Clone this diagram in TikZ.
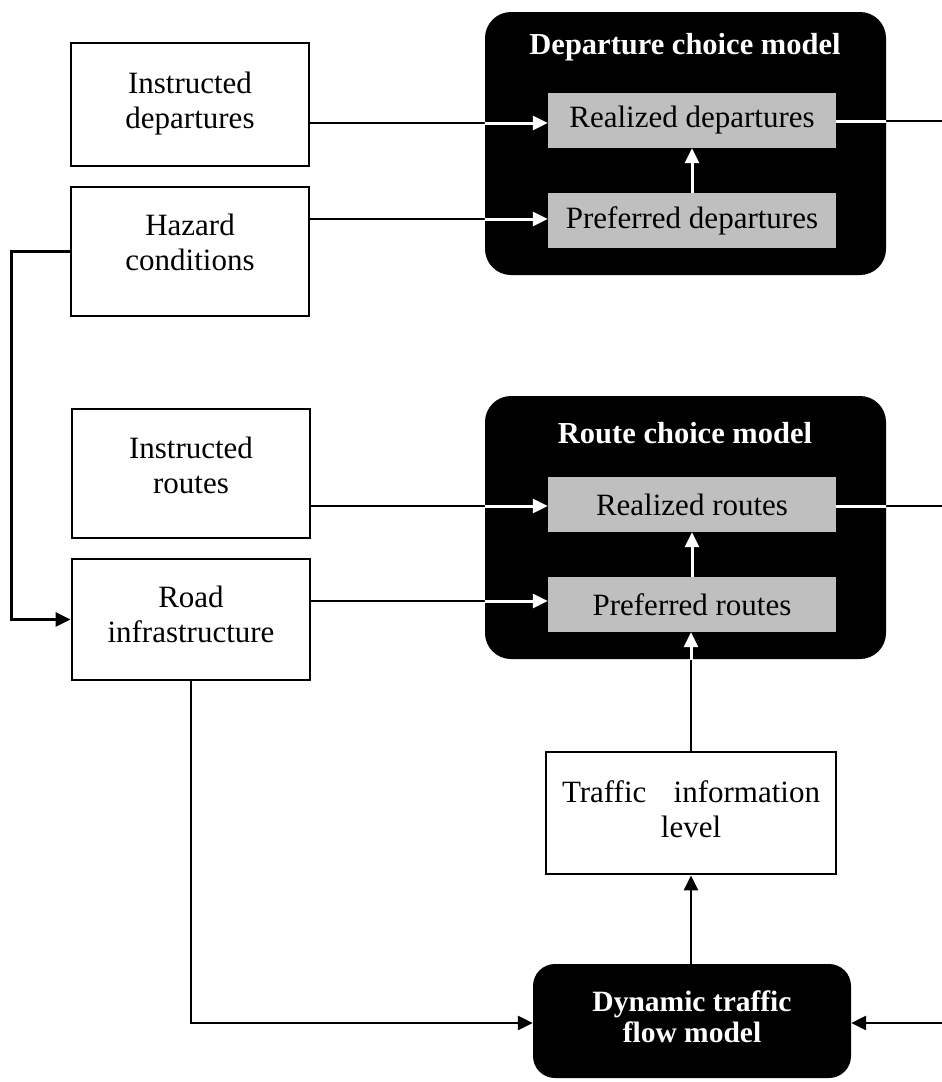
\documentclass[tikz,border=0pt]{standalone}
\usepackage{fontspec}
\setmainfont{Liberation Serif}
\usetikzlibrary{arrows.meta,positioning}
\definecolor{grayfill}{RGB}{191,191,191}
\tikzset{
  x=1pt,y=-1pt,
  txt/.style={font=\fontsize{31}{35}\selectfont},
  inbox/.style={draw=black,line width=2.8pt,fill=white,rectangle,align=center,txt,inner sep=0pt},
  blackbox/.style={fill=black,rectangle,rounded corners=26pt,inner sep=0pt},
  graybox/.style={fill=grayfill,rectangle,inner sep=0pt,minimum width=288pt,minimum height=55pt,txt},
  title/.style={text=white,font=\fontsize{30.5}{34}\selectfont\bfseries,inner sep=0pt},
  conn/.style={draw=black,line width=2.8pt,-{Triangle[length=15pt,width=14pt]}},
  plain/.style={draw=black,line width=2.8pt},
  wconn/.style={draw=white,line width=3pt,-{Triangle[length=15pt,width=14pt]}},
  wplain/.style={draw=white,line width=3pt},
}
\newcommand{\dn}[1]{\rule[-#1pt]{0pt}{#1pt}}
\begin{document}
\begin{tikzpicture}
\useasboundingbox[fill=white] (0,0) rectangle (942,1082);

% black model boxes
\node[blackbox,minimum width=401pt,minimum height=263pt] (depbox) at (685.5,143.5) {};
\node[blackbox,minimum width=401pt,minimum height=263pt] (routebox) at (685.5,527.5) {};
\node[blackbox,rounded corners=22pt,minimum width=318pt,minimum height=114pt,text=white,align=center,font=\fontsize{29.5}{31}\selectfont\bfseries] (dyn) at (692,1021) {Dynamic traffic\\flow model\dn{8}};

\node[title] (deptitle) at (685,47) {Departure choice model};
\node[title] (routetitle) at (685,433) {Route choice model};

% gray inner boxes
\node[graybox] (realdep) at (692,120.5) {Realized departures};
\node[graybox] (prefdep) at (692,220.5) {Preferred departures};
\node[graybox] (realroute) at (692,504.5) {Realized routes};
\node[graybox] (prefroute) at (692,604.5) {Preferred routes};

% input boxes
\node[inbox,minimum width=238pt,minimum height=123pt] (instdep) at (190,104.5) {Instructed\\departures\dn{9}};
\node[inbox,minimum width=238pt,minimum height=129pt] (hazard) at (190,251.5) {Hazard\\conditions\dn{18}};
\node[inbox,minimum width=238pt,minimum height=129pt] (instroute) at (191,473.5) {Instructed\\routes\dn{16}};
\node[inbox,minimum width=238pt,minimum height=121pt] (road) at (191,619.5) {Road\\infrastructure\dn{10}};
\node[inbox,minimum width=290pt,minimum height=122pt,text width=258pt] (traffic) at (691,813) {Traffic\hfill information\\level\dn{8}};

% free ends at the right edge
\coordinate (outdep) at (942,121);
\coordinate (outroute) at (942,506);
\coordinate (indyn) at (942,1023);

% connectors (black)
\draw[conn] (instdep.east |- 0,123) -- (realdep.west |- 0,123);
\draw[conn] (hazard.east |- 0,219) -- (prefdep.west |- 0,219);
\draw[conn] (instroute.east |- 0,506) -- (realroute.west |- 0,506);
\draw[conn] (road.east |- 0,601) -- (prefroute.west |- 0,601);
\draw[plain] (realdep.east |- outdep) -- (outdep);
\draw[plain] (realroute.east |- outroute) -- (outroute);
\draw[conn] (traffic.north) -- (prefroute.south -| traffic.north);
\draw[conn] (hazard.west) -- ++(-58,0) |- (road.west);
\draw[conn] (road.south) |- (dyn.west |- 0,1023);
\draw[conn] (dyn.north -| traffic.south) -- (traffic.south);
\draw[conn] (indyn) -- (dyn.east |- indyn);

% white parts inside the black boxes
\begin{scope}
\clip (depbox.north west) rectangle (depbox.south east);
\draw[wconn] (instdep.east |- 0,123) -- (realdep.west |- 0,123);
\draw[wconn] (hazard.east |- 0,219) -- (prefdep.west |- 0,219);
\draw[wplain] (realdep.east |- outdep) -- (outdep);
\end{scope}
\begin{scope}
\clip (routebox.north west) rectangle (routebox.south east);
\draw[wconn] (instroute.east |- 0,506) -- (realroute.west |- 0,506);
\draw[wconn] (road.east |- 0,601) -- (prefroute.west |- 0,601);
\draw[wplain] (realroute.east |- outroute) -- (outroute);
\draw[wconn] (traffic.north) -- (prefroute.south -| traffic.north);
\end{scope}
\draw[wconn] (prefdep.north) -- (realdep.south);
\draw[wconn] (prefroute.north) -- (realroute.south);
\end{tikzpicture}
\end{document}
